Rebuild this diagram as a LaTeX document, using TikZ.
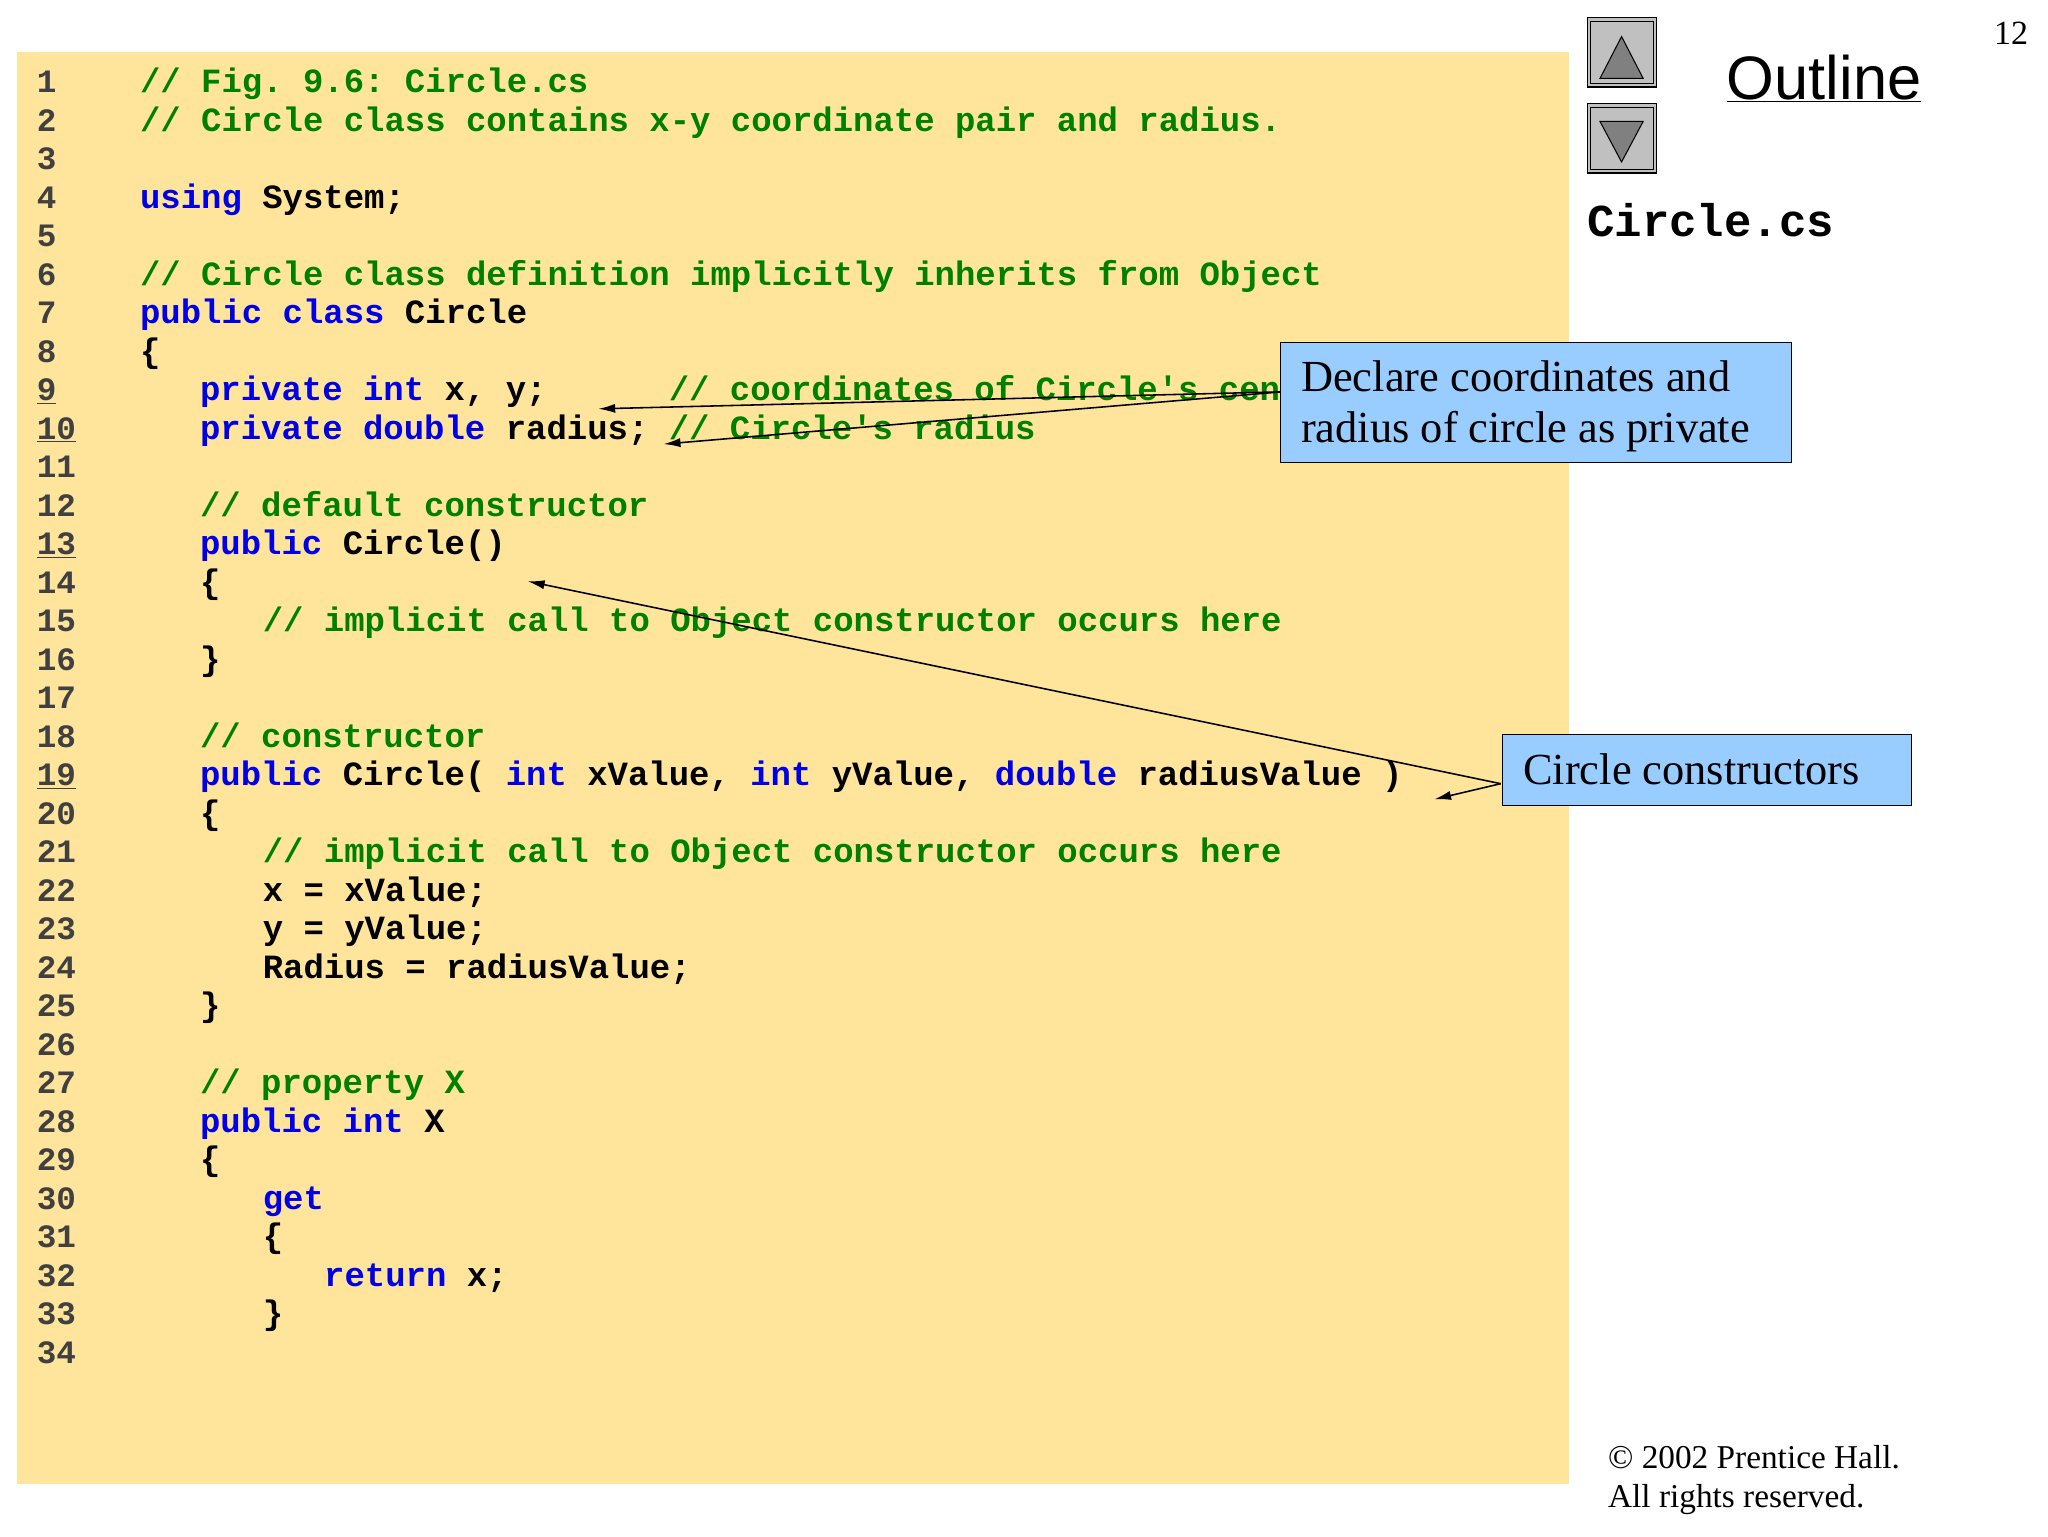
\documentclass[tikz,border=0pt]{standalone}
\usepackage{fontspec}
\usetikzlibrary{arrows.meta}
\setmainfont{Liberation Serif}
\setsansfont{Liberation Sans}
\setmonofont{Liberation Mono}
\definecolor{paper}{RGB}{255,229,156}
\definecolor{kw}{RGB}{0,0,230}
\definecolor{cm}{RGB}{0,128,0}
\definecolor{callout}{RGB}{153,204,255}
\definecolor{btn}{RGB}{192,192,192}
\definecolor{tri}{RGB}{128,128,128}
\newcommand{\KW}[1]{\textcolor{kw}{#1}}
\newcommand{\CM}[1]{\textcolor{cm}{#1}}
\begin{document}
\begin{tikzpicture}[x=1pt,y=-1pt,
  code/.style={anchor=base west,inner sep=0pt,font=\fontsize{26}{30}\selectfont\ttfamily\bfseries},
  num/.style={anchor=base west,inner sep=0pt,font=\fontsize{25}{30}\selectfont\ttfamily\bfseries,text=black!75},
  callbox/.style={draw=black,fill=callout,line width=0.8pt,inner sep=0pt},
  calltext/.style={anchor=base west,inner sep=0pt,font=\fontsize{34}{39}\selectfont},
  arr/.style={-{Latex[length=13pt,width=7pt]},line width=1.2pt}]
\useasboundingbox (0,0) rectangle (1568,1176);
\fill[paper] (13,40) rectangle (1201,1136);
% line numbers
\foreach \n in {1,...,34}{
  \pgfmathsetmacro{\yy}{62+(\n-1)*29.48+9}
  \ifnum\n=9 \node[num] (n\n) at (28,\yy) {\underline{\n}};
  \else\ifnum\n=10 \node[num] (n\n) at (28,\yy) {\underline{\n}};
  \else\ifnum\n=13 \node[num] (n\n) at (28,\yy) {\underline{\n}};
  \else\ifnum\n=19 \node[num] (n\n) at (28,\yy) {\underline{\n}};
  \else \node[num] (n\n) at (28,\yy) {\n};
  \fi\fi\fi\fi}
\node[code] (c1) at (107,71) {\CM{// Fig. 9.6: Circle.cs}};
\node[code] (c2) at (107,100.5) {\CM{// Circle class contains x-y coordinate pair and radius.}};
\node[code] (c4) at (107,159.4) {\KW{using} System;};
\node[code] (c6) at (107,218.4) {\CM{// Circle class definition implicitly inherits from Object}};
\node[code] (c7) at (107,247.9) {\KW{public class} Circle};
\node[code] (c8) at (107,277.4) {\{};
\node[code] (c9) at (153,306.8) {\KW{private int} x, y;~~~~~~\CM{// coordinates of Circle's center}};
\node[code] (c10) at (153,336.3) {\KW{private double} radius; \CM{// Circle's radius}};
\node[code] (c12) at (153,395.3) {\CM{// default constructor}};
\node[code] (c13) at (153,424.7) {\KW{public} Circle()};
\node[code] (c14) at (153,454.2) {\{};
\node[code] (c15) at (201,483.7) {\CM{// implicit call to Object constructor occurs here}};
\node[code] (c16) at (153,513.2) {\}};
\node[code] (c18) at (153,572.2) {\CM{// constructor}};
\node[code] (c19) at (153,601.6) {\KW{public} Circle( \KW{int} xValue, \KW{int} yValue, \KW{double} radiusValue )};
\node[code] (c20) at (153,631.1) {\{};
\node[code] (c21) at (201,660.6) {\CM{// implicit call to Object constructor occurs here}};
\node[code] (c22) at (201,690.1) {x = xValue;};
\node[code] (c23) at (201,719.6) {y = yValue;};
\node[code] (c24) at (201,749.0) {Radius = radiusValue;};
\node[code] (c25) at (153,778.5) {\}};
\node[code] (c27) at (153,837.5) {\CM{// property X}};
\node[code] (c28) at (153,867.0) {\KW{public int} X};
\node[code] (c29) at (153,896.4) {\{};
\node[code] (c30) at (201,925.9) {\KW{get}};
\node[code] (c31) at (201,955.4) {\{};
\node[code] (c32) at (248,984.9) {\KW{return} x;};
\node[code] (c33) at (201,1014.4) {\}};
% callouts
\coordinate (a1) at (458,313);
\coordinate (a2) at (508,340);
\coordinate (a3) at (404,445);
\coordinate (a4) at (1098,612);
\coordinate (s1) at (981,300);
\coordinate (s2) at (1149,600);
\draw[arr] (s1) -- (a1);
\draw[arr] (s1) -- (a2);
\draw[arr] (s2) -- (a3);
\draw[arr] (s2) -- (a4);
\node[callbox,minimum width=391pt,minimum height=92pt,anchor=north west] (b1) at (980,262) {};
\node[calltext] (t1) at (996,300) {Declare coordinates and};
\node[calltext] (t1b) at (996,339) {radius of circle as private};
\node[callbox,minimum width=313pt,minimum height=54pt,anchor=north west] (b2) at (1150,562) {};
\node[calltext] (t2) at (1166,601) {Circle constructors};
% buttons
\node[draw=black,fill=btn,line width=1pt,minimum size=53pt,anchor=north west,inner sep=0pt] (up) at (1215,13) {};
\draw[line width=0.6pt] ([shift={(3,3)}]up.north west) rectangle ([shift={(-3,-3)}]up.south east);
\fill[tri,draw=black,line width=0.8pt] (1241.5,28) -- (1225,60) -- (1258,60) -- cycle;
\node[draw=black,fill=btn,line width=1pt,minimum size=53pt,anchor=north west,inner sep=0pt] (down) at (1215,79) {};
\draw[line width=0.6pt] ([shift={(3,3)}]down.north west) rectangle ([shift={(-3,-3)}]down.south east);
\fill[tri,draw=black,line width=0.8pt] (1241.5,124) -- (1225,93) -- (1258,93) -- cycle;
\node[anchor=base west,inner sep=0pt,font=\fontsize{47}{52}\selectfont\sffamily] (outl) at (1322,76) {\underline{Outline}};
\node[anchor=base west,inner sep=0pt,font=\fontsize{35}{40}\selectfont\ttfamily\bfseries] (fname) at (1215,181) {Circle.cs};
\node[anchor=base east,inner sep=0pt,font=\fontsize{26}{30}\selectfont] (pg) at (1553,34) {12};
\node[anchor=base west,inner sep=0pt,font=\fontsize{25.5}{30}\selectfont] (cp1) at (1231,1124) {© 2002 Prentice Hall.};
\node[anchor=base west,inner sep=0pt,font=\fontsize{25.5}{30}\selectfont] (cp2) at (1231,1154) {All rights reserved.};
\end{tikzpicture}
\end{document}
